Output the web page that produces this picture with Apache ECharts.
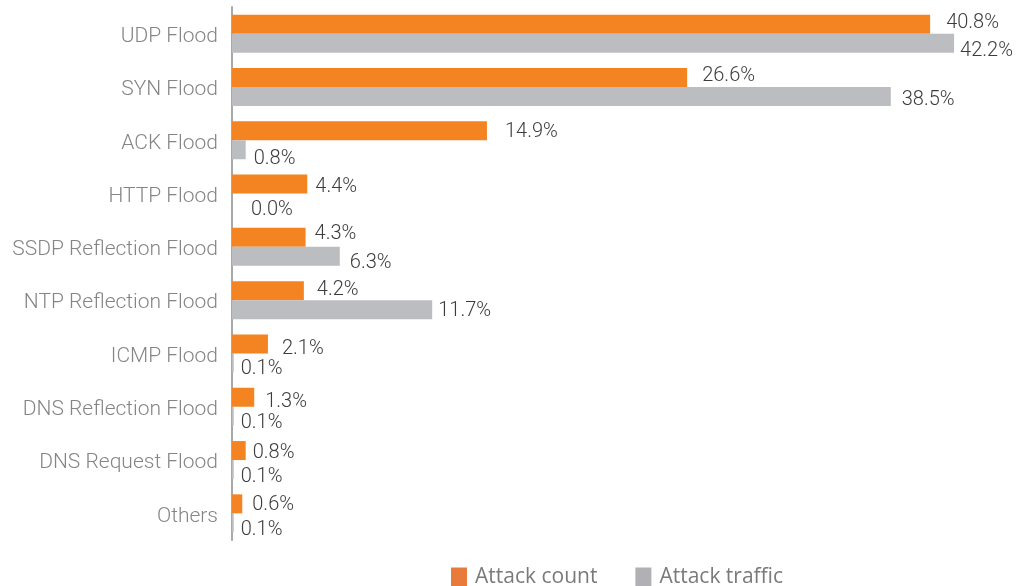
<!DOCTYPE html>
<html>
<head>
<meta charset="utf-8">
<script src="https://cdn.jsdelivr.net/npm/echarts@6/dist/echarts.min.js"></script>
<style>
  html, body { margin: 0; padding: 0; background: #ffffff; }
  #chart { width: 1020px; height: 586px; }
</style>
</head>
<body>
<div id="chart"></div>
<script>
// Attack types, listed top to bottom
const categories = [
  'UDP Flood', 'SYN Flood', 'ACK Flood', 'HTTP Flood', 'SSDP Reflection Flood',
  'NTP Reflection Flood', 'ICMP Flood', 'DNS Reflection Flood', 'DNS Request Flood', 'Others'
];
// Share of attacks by count (%)
const attackCount = [40.8, 26.6, 14.9, 4.4, 4.3, 4.2, 2.1, 1.3, 0.8, 0.6];
// Share of attack traffic (%)
const attackTraffic = [42.2, 38.5, 0.8, 0.0, 6.3, 11.7, 0.1, 0.1, 0.1, 0.1];

const seriesNames = ['Attack count', 'Attack traffic'];

// Hand-placed value labels: gap after the bar end and vertical nudge (px)
const countLabelGap = [16, 15, 18, 8, 9, 13, 14, 11, 7, 10];
const countLabelDy = [-1, -1, 1, 3, -3, -1, 5, 5, 2, 1];
const trafficLabelGap = [6, 11, 8, 19, 10, 6, 7, 7, 7, 7];
const trafficLabelDy = [8, 4, 9, 7, 7, 1, 6, 7, 7, 7];

const chart = echarts.init(document.getElementById('chart'), null, { renderer: 'canvas' });

const labelStyle = {
  show: true,
  position: 'right',
  color: '#3c3c3c',
  fontFamily: 'Roboto',
  fontWeight: 300,
  fontSize: 20,
  formatter: (p) => p.value.toFixed(1) + '%'
};

function withLabels(values, gaps, dys) {
  return values.map((v, i) => ({
    value: v,
    label: { distance: gaps[i], offset: [0, dys[i]] }
  }));
}

chart.setOption({
  animation: false,
  backgroundColor: '#ffffff',
  grid: {
    left: 232,
    right: 18,
    top: 7,
    bottom: 46,
    outerBoundsMode: 'none',
    containLabel: false
  },
  legend: {
    top: 567,
    left: 451,
    padding: 0,
    itemWidth: 16,
    itemHeight: 20,
    itemGap: 38,
    icon: 'rect',
    textStyle: {
      color: '#7a7a7a',
      fontFamily: 'Open Sans',
      fontSize: 21,
      padding: [0, 0, 0, 3]
    },
    data: [
      { name: seriesNames[0], itemStyle: { color: '#e87a3c' } },
      { name: seriesNames[1], itemStyle: { color: '#b1b1b5' } }
    ]
  },
  xAxis: {
    type: 'value',
    min: 0,
    max: 45,
    show: false
  },
  yAxis: {
    type: 'category',
    data: categories,
    inverse: true,
    axisLine: { show: true, lineStyle: { color: '#a8a8a8', width: 2 } },
    axisTick: { show: false },
    axisLabel: {
      margin: 14,
      formatter: (v) => '{c|' + v + '}',
      rich: {
        c: {
          color: '#858585',
          fontFamily: 'Roboto',
          fontWeight: 300,
          fontSize: 21,
          padding: [6, 0, 0, 0]
        }
      }
    },
    splitLine: { show: false }
  },
  series: [
    {
      name: seriesNames[0],
      type: 'bar',
      data: withLabels(attackCount, countLabelGap, countLabelDy),
      barWidth: 19,
      barGap: '0%',
      itemStyle: { color: '#f48322' },
      label: labelStyle
    },
    {
      name: seriesNames[1],
      type: 'bar',
      data: withLabels(attackTraffic, trafficLabelGap, trafficLabelDy),
      barWidth: 19,
      barGap: '0%',
      itemStyle: { color: '#bcbdc0' },
      label: labelStyle
    }
  ]
});
</script>
</body>
</html>
